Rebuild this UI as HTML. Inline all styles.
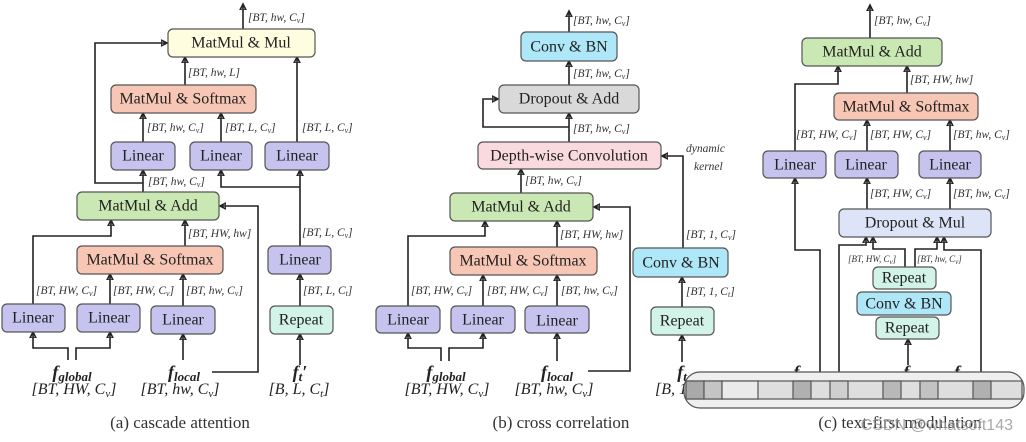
<!DOCTYPE html>
<html><head><meta charset="utf-8"><style>
html,body{margin:0;padding:0;background:#fff;}
svg{display:block;}
.n{font-family:"Liberation Serif",serif;font-size:16px;fill:#222;text-anchor:middle;dominant-baseline:central;}
.l{font-family:"Liberation Serif",serif;font-size:11.5px;font-style:italic;fill:#333;}
.s{font-family:"Liberation Serif",serif;font-size:9px;font-style:italic;fill:#333;}
.f{font-family:"Liberation Serif",serif;font-size:18px;font-style:italic;font-weight:bold;fill:#222;text-anchor:middle;}
.d{font-family:"Liberation Serif",serif;font-size:16px;font-style:italic;fill:#222;text-anchor:middle;}
.c{font-family:"Liberation Serif",serif;font-size:17px;fill:#333;text-anchor:middle;}
path,line{stroke:#222;stroke-width:1.6;fill:none;}
rect{stroke:#555;stroke-width:1.2;}
</style></head><body>
<svg width="1026" height="442" viewBox="0 0 1026 442" xmlns="http://www.w3.org/2000/svg">
<defs><marker id="a" markerWidth="8" markerHeight="8" refX="6" refY="4" orient="auto" markerUnits="userSpaceOnUse"><path d="M0,1 L6,4 L0,7 Z" fill="#111" stroke="none"/></marker></defs>
<g marker-end="url(#a)">
<path d="M243,29 V4"/>
<path d="M185,85 V57"/>
<path d="M143,142 V113"/>
<path d="M221,142 V113"/>
<path d="M297,142 V57"/>
<path d="M143,192 V170"/>
<path d="M143,183 H95 V43 H167"/>
<path d="M300,246 V170"/>
<path d="M300,187 H221 V170"/>
<path d="M300,306 V274"/>
<path d="M300,365 V334"/>
<path d="M185,246 V220"/>
<path d="M33,304 V236 H111 V220"/>
<path d="M110,304 V274"/>
<path d="M183,306 V274"/>
<path d="M68,360 V348 H33 V332"/>
<path d="M76,360 V348 H110 V332"/>
<path d="M183,360 V334"/>
<path d="M212,372 H258 V206 H220"/>
<path d="M569,32 V11"/>
<path d="M569,85 V61"/>
<path d="M569,142 V113"/>
<path d="M569,127 H483 V99 H498"/>
<path d="M521,193 V169"/>
<path d="M557,247 V221"/>
<path d="M408,306 V236 H485 V221"/>
<path d="M483,306 V275"/>
<path d="M557,306 V275"/>
<path d="M441,361 V348 H408 V333"/>
<path d="M449,361 V348 H483 V333"/>
<path d="M557,361 V333"/>
<path d="M588,371 H630 V207 H594"/>
<path d="M682,307 V277"/>
<path d="M683,248 V156 H662"/>
<path d="M682,362 V335"/>
<path d="M870,38 V5"/>
<path d="M907,93 V66"/>
<path d="M795,151 V84 H838 V66"/>
<path d="M867,151 V120"/>
<path d="M950,151 V120"/>
<path d="M867,209 V178"/>
<path d="M950,209 V178"/>
<path d="M820,372 V250 H795 V178"/>
<path d="M839,372 V245 H866 V237"/>
<path d="M905,267 V249 H873 V237"/>
<path d="M915,267 V249 H937 V237"/>
<path d="M981,372 V250 H944 V237"/>
<path d="M908,365 V339"/>
</g>
<rect x="168" y="29" width="147" height="28" rx="5" fill="#fffde0"/><text class="n" x="241" y="43">MatMul &amp; Mul</text>
<rect x="111" y="85" width="145" height="28" rx="5" fill="#f7c6b4"/><text class="n" x="183" y="99">MatMul &amp; Softmax</text>
<rect x="111" y="142" width="64" height="28" rx="5" fill="#c6c3ef"/><text class="n" x="143" y="156">Linear</text>
<rect x="190" y="142" width="62" height="28" rx="5" fill="#c6c3ef"/><text class="n" x="221" y="156">Linear</text>
<rect x="265" y="142" width="64" height="28" rx="5" fill="#c6c3ef"/><text class="n" x="297" y="156">Linear</text>
<rect x="77" y="192" width="142" height="28" rx="5" fill="#c9e8b3"/><text class="n" x="148" y="206">MatMul &amp; Add</text>
<rect x="77" y="246" width="146" height="28" rx="5" fill="#f7c6b4"/><text class="n" x="150" y="260">MatMul &amp; Softmax</text>
<rect x="2" y="304" width="63" height="28" rx="5" fill="#c6c3ef"/><text class="n" x="33" y="318">Linear</text>
<rect x="77" y="304" width="63" height="28" rx="5" fill="#c6c3ef"/><text class="n" x="109" y="318">Linear</text>
<rect x="151" y="306" width="64" height="28" rx="5" fill="#c6c3ef"/><text class="n" x="183" y="320">Linear</text>
<rect x="268" y="246" width="63" height="28" rx="5" fill="#c6c3ef"/><text class="n" x="300" y="260">Linear</text>
<rect x="270" y="306" width="63" height="28" rx="5" fill="#d2f3e7"/><text class="n" x="301" y="320">Repeat</text>
<text class="l" x="248" y="21">[BT, hw, C<tspan font-size="8" dy="2">v</tspan><tspan dy="-2">]</tspan></text>
<text class="l" x="188" y="76">[BT, hw, L]</text>
<text class="l" x="147" y="131">[BT, hw, C<tspan font-size="8" dy="2">v</tspan><tspan dy="-2">]</tspan></text>
<text class="l" x="225" y="131">[BT, L, C<tspan font-size="8" dy="2">v</tspan><tspan dy="-2">]</tspan></text>
<text class="l" x="302" y="131">[BT, L, C<tspan font-size="8" dy="2">v</tspan><tspan dy="-2">]</tspan></text>
<text class="l" x="148" y="185">[BT, hw, C<tspan font-size="8" dy="2">v</tspan><tspan dy="-2">]</tspan></text>
<text class="l" x="188" y="237">[BT, HW, hw]</text>
<text class="l" x="302" y="236">[BT, L, C<tspan font-size="8" dy="2">v</tspan><tspan dy="-2">]</tspan></text>
<text class="l" x="303" y="294">[BT, L, C<tspan font-size="8" dy="2">t</tspan><tspan dy="-2">]</tspan></text>
<text class="l" x="36" y="294">[BT, HW, C<tspan font-size="8" dy="2">v</tspan><tspan dy="-2">]</tspan></text>
<text class="l" x="113" y="294">[BT, HW, C<tspan font-size="8" dy="2">v</tspan><tspan dy="-2">]</tspan></text>
<text class="l" x="186" y="294">[BT, hw, C<tspan font-size="8" dy="2">v</tspan><tspan dy="-2">]</tspan></text>
<text class="f" x="72" y="378">f<tspan font-size="13" dy="3">global</tspan></text>
<text class="d" x="74" y="394">[BT, HW, C<tspan font-size="11" dy="3">v</tspan><tspan dy="-3">]</tspan></text>
<text class="f" x="184" y="378">f<tspan font-size="13" dy="3">local</tspan></text>
<text class="d" x="180" y="394">[BT, hw, C<tspan font-size="11" dy="3">v</tspan><tspan dy="-3">]</tspan></text>
<text class="f" x="300" y="378">f<tspan font-size="13" dy="3">t</tspan><tspan dy="-3">′</tspan></text>
<text class="d" x="299" y="394">[B, L, C<tspan font-size="11" dy="3">t</tspan><tspan dy="-3">]</tspan></text>
<text class="c" x="180" y="428">(a) cascade attention</text>
<rect x="521" y="32" width="96" height="29" rx="5" fill="#aee7f8"/><text class="n" x="569" y="47">Conv &amp; BN</text>
<rect x="499" y="85" width="140" height="28" rx="5" fill="#d9d9d9"/><text class="n" x="569" y="99">Dropout &amp; Add</text>
<rect x="478" y="142" width="183" height="27" rx="5" fill="#fadadf"/><text class="n" x="569" y="156">Depth-wise Convolution</text>
<rect x="450" y="193" width="143" height="28" rx="5" fill="#c9e8b3"/><text class="n" x="521" y="207">MatMul &amp; Add</text>
<rect x="450" y="247" width="147" height="28" rx="5" fill="#f7c6b4"/><text class="n" x="523" y="261">MatMul &amp; Softmax</text>
<rect x="633" y="248" width="95" height="29" rx="5" fill="#aee7f8"/><text class="n" x="681" y="263">Conv &amp; BN</text>
<rect x="376" y="306" width="64" height="27" rx="5" fill="#c6c3ef"/><text class="n" x="408" y="320">Linear</text>
<rect x="451" y="306" width="64" height="27" rx="5" fill="#c6c3ef"/><text class="n" x="483" y="320">Linear</text>
<rect x="525" y="306" width="64" height="27" rx="5" fill="#c6c3ef"/><text class="n" x="557" y="321">Linear</text>
<rect x="651" y="307" width="63" height="28" rx="5" fill="#d2f3e7"/><text class="n" x="682" y="321">Repeat</text>
<text class="l" x="573" y="24">[BT, hw, C<tspan font-size="8" dy="2">v</tspan><tspan dy="-2">]</tspan></text>
<text class="l" x="573" y="77">[BT, hw, C<tspan font-size="8" dy="2">v</tspan><tspan dy="-2">]</tspan></text>
<text class="l" x="573" y="132">[BT, hw, C<tspan font-size="8" dy="2">v</tspan><tspan dy="-2">]</tspan></text>
<text class="l" x="525" y="184">[BT, hw, C<tspan font-size="8" dy="2">v</tspan><tspan dy="-2">]</tspan></text>
<text class="l" x="560" y="238">[BT, HW, hw]</text>
<text class="l" x="686" y="238">[BT, 1, C<tspan font-size="8" dy="2">v</tspan><tspan dy="-2">]</tspan></text>
<text class="l" x="686" y="295">[BT, 1, C<tspan font-size="8" dy="2">t</tspan><tspan dy="-2">]</tspan></text>
<text class="l" x="411" y="294">[BT, HW, C<tspan font-size="8" dy="2">v</tspan><tspan dy="-2">]</tspan></text>
<text class="l" x="487" y="294">[BT, HW, C<tspan font-size="8" dy="2">v</tspan><tspan dy="-2">]</tspan></text>
<text class="l" x="561" y="294">[BT, hw, C<tspan font-size="8" dy="2">v</tspan><tspan dy="-2">]</tspan></text>
<text class="l" x="686" y="152" font-size="13">dynamic</text>
<text class="l" x="694" y="170" font-size="13">kernel</text>
<text class="f" x="446" y="378">f<tspan font-size="13" dy="3">global</tspan></text>
<text class="d" x="447" y="394">[BT, HW, C<tspan font-size="11" dy="3">v</tspan><tspan dy="-3">]</tspan></text>
<text class="f" x="557" y="378">f<tspan font-size="13" dy="3">local</tspan></text>
<text class="d" x="554" y="394">[BT, hw, C<tspan font-size="11" dy="3">v</tspan><tspan dy="-3">]</tspan></text>
<text class="f" x="682" y="378">f<tspan font-size="13" dy="3">t</tspan></text>
<text class="d" x="685" y="394">[B, 1, C<tspan font-size="11" dy="3">t</tspan><tspan dy="-3">]</tspan></text>
<text class="c" x="561" y="428">(b) cross correlation</text>
<rect x="802" y="38" width="140" height="28" rx="5" fill="#c9e8b3"/><text class="n" x="872" y="52">MatMul &amp; Add</text>
<rect x="834" y="93" width="144" height="27" rx="5" fill="#f7c6b4"/><text class="n" x="906" y="107">MatMul &amp; Softmax</text>
<rect x="763" y="151" width="63" height="27" rx="5" fill="#c6c3ef"/><text class="n" x="795" y="165">Linear</text>
<rect x="835" y="151" width="63" height="27" rx="5" fill="#c6c3ef"/><text class="n" x="866" y="165">Linear</text>
<rect x="919" y="151" width="62" height="27" rx="5" fill="#c6c3ef"/><text class="n" x="950" y="165">Linear</text>
<rect x="839" y="209" width="152" height="28" rx="5" fill="#dde4f8"/><text class="n" x="915" y="223">Dropout &amp; Mul</text>
<rect x="873" y="267" width="63" height="22" rx="5" fill="#d2f3e7"/><text class="n" x="904" y="278">Repeat</text>
<rect x="857" y="292" width="94" height="23" rx="5" fill="#aee7f8"/><text class="n" x="904" y="304">Conv &amp; BN</text>
<rect x="876" y="317" width="63" height="22" rx="5" fill="#d2f3e7"/><text class="n" x="907" y="328">Repeat</text>
<text class="l" x="874" y="24">[BT, hw, C<tspan font-size="8" dy="2">v</tspan><tspan dy="-2">]</tspan></text>
<text class="l" x="910" y="83">[BT, HW, hw]</text>
<text class="l" x="796" y="138">[BT, HW, C<tspan font-size="8" dy="2">v</tspan><tspan dy="-2">]</tspan></text>
<text class="l" x="870" y="138">[BT, HW, C<tspan font-size="8" dy="2">v</tspan><tspan dy="-2">]</tspan></text>
<text class="l" x="953" y="138">[BT, hw, C<tspan font-size="8" dy="2">v</tspan><tspan dy="-2">]</tspan></text>
<text class="l" x="870" y="197">[BT, HW, C<tspan font-size="8" dy="2">v</tspan><tspan dy="-2">]</tspan></text>
<text class="l" x="953" y="197">[BT, hw, C<tspan font-size="8" dy="2">v</tspan><tspan dy="-2">]</tspan></text>
<text class="s" x="848" y="262">[BT, HW, C<tspan font-size="7" dy="2">v</tspan><tspan dy="-2">]</tspan></text>
<text class="s" x="917" y="262">[BT, hw, C<tspan font-size="7" dy="2">v</tspan><tspan dy="-2">]</tspan></text>
<text class="f" x="813" y="378">f<tspan font-size="13" dy="3">global</tspan></text>
<text class="f" x="908" y="378">f<tspan font-size="13" dy="3">t</tspan></text>
<text class="f" x="970" y="378">f<tspan font-size="13" dy="3">local</tspan></text>
<g stroke="none">
<rect x="684" y="372" width="340" height="36" rx="16" fill="#efefef" stroke="none"/>
<rect x="686" y="381" width="336" height="18" fill="#dedede" stroke="none"/>
<rect x="686" y="381" width="18" height="18" fill="#a9a9a9" stroke="none"/>
<rect x="704" y="381" width="18" height="18" fill="#c4c4c4" stroke="none"/>
<rect x="722" y="381" width="36" height="18" fill="#eaeaea" stroke="none"/>
<rect x="793" y="381" width="18" height="18" fill="#b0b0b0" stroke="none"/>
<rect x="830" y="381" width="18" height="18" fill="#cfcfcf" stroke="none"/>
<rect x="883" y="381" width="18" height="18" fill="#b8b8b8" stroke="none"/>
<rect x="920" y="381" width="18" height="18" fill="#c2c2c2" stroke="none"/>
<rect x="973" y="381" width="18" height="18" fill="#b0b0b0" stroke="none"/>
</g>
<text class="c" x="900" y="428">(c) text-first modulation</text>
<text x="1013" y="430" font-family="Liberation Sans, sans-serif" font-size="16" fill="#999" text-anchor="end" opacity="0.85">CSDN @whatsoft143</text>
</svg>
</body></html>
